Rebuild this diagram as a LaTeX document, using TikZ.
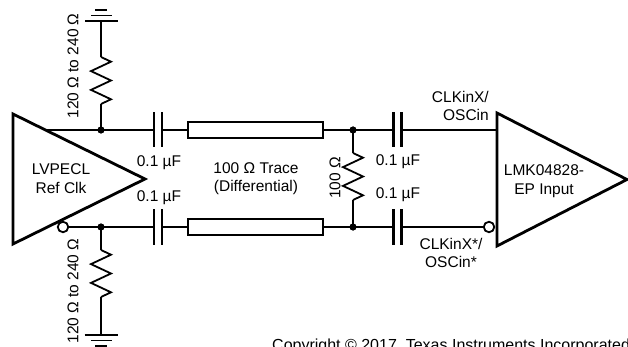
\documentclass[tikz,border=0pt]{standalone}
\usepackage{fontspec}
\setmainfont{Liberation Sans}
\usetikzlibrary{calc, positioning}
\tikzset{
wire/.style={draw=black, line width=1.8pt},
amp/.style={draw=black, line width=2.8pt, line join=miter},
plate/.style={draw=black, line width=2.4pt},
trace/.style={draw=black, line width=2pt, fill=white, minimum width=135pt, minimum height=16pt, inner sep=0pt},
dot/.style={circle, fill=black, inner sep=0pt, minimum size=7pt},
bubble/.style={circle, draw=black, line width=1.8pt, fill=white, inner sep=0pt, minimum size=10.5pt},
lbl/.style={font=\fontsize{15.5}{18.5}\selectfont, inner sep=0pt, align=center},
zres/.pic={
  \coordinate (-a) at (0,0);
  \coordinate (-b) at (0,47);
  \draw[wire, line join=miter] (-a) -- (10,4.7) -- (-10,14.1) -- (10,23.5) -- (-10,32.9) -- (10,42.3) -- (-b);
},
cap/.pic={
  \coordinate (-l) at (-4,0);
  \coordinate (-r) at (4,0);
  \draw[plate] (-4,-17.5) -- (-4,17.5);
  \draw[plate] (4,-17.5) -- (4,17.5);
},
gnd/.pic={
  \coordinate (-s) at (0,0);
  \draw[wire] (-16.5,0) -- (16.5,0);
  \draw[wire] (-10.5,5.5) -- (10.5,5.5);
  \draw[wire] (-6,11) -- (6,11);
},
}

\begin{document}
\begin{tikzpicture}[x=1pt, y=-1pt]
    \useasboundingbox (0,0) rectangle (628,347);

    % LVPECL driver
    \coordinate (la) at (13,114);
    \coordinate (lb) at (13,244);
    \coordinate (lc) at (145,179);
    \draw[amp] (la) -- (lc) -- (lb) -- cycle;
    \coordinate (lo) at ($(la)!{16/65}!(lc)$);
    \node[bubble] (lbub) at (63,227) {};
    \node[lbl] (drv) at (61,178.5) {LVPECL\\Ref Clk};

    % LMK04828-EP input
    \coordinate (ra) at (497,113);
    \coordinate (rb) at (497,246);
    \coordinate (rc) at (627,179.5);
    \draw[amp] (ra) -- (rc) -- (rb) -- cycle;
    \coordinate (rin) at (497,130);
    \node[bubble] (rbub) at (489,227) {};
    \node[lbl] (rcv) at (544,181) {LMK04828-\\EP Input};

    % caps and traces
    \pic (c1) at (158,130) {cap};
    \pic (c3) at (158,227) {cap};
    \pic (c2) at (397.5,130) {cap};
    \pic (c4) at (397.5,227) {cap};
    \node[trace] (t1) at (255.5,130) {};
    \node[trace] (t2) at (255.5,227) {};

    % junctions
    \node[dot] (j1) at (101,130) {};
    \node[dot] (j2) at (101,227) {};
    \node[dot] (j3) at (353,130) {};
    \node[dot] (j4) at (353,227) {};

    % termination resistors
    \pic (r1) at (101,57) {zres};
    \pic (r2) at (101,250) {zres};
    \pic (r3) at (353,153) {zres};
    \pic[rotate=180] (g1) at (101,21) {gnd};
    \pic (g2) at (101,335) {gnd};

    % wires
    \draw[wire] (lo) -- (c1-l);
    \draw[wire] (c1-r) -- (t1.west);
    \draw[wire] (t1.east) -- (c2-l);
    \draw[wire] (c2-r) -- (rin);
    \draw[wire] (lbub.east) -- (c3-l);
    \draw[wire] (c3-r) -- (t2.west);
    \draw[wire] (t2.east) -- (c4-l);
    \draw[wire] (c4-r) -- (rbub.west);
    \draw[wire] (g1-s) -- (r1-a);
    \draw[wire] (r1-b) -- (j1.center);
    \draw[wire] (j2.center) -- (r2-a);
    \draw[wire] (r2-b) -- (g2-s);
    \draw[wire] (j3.center) -- (r3-a);
    \draw[wire] (r3-b) -- (j4.center);
    \node[dot] at (j1) {};
    \node[dot] at (j2) {};
    \node[dot] at (j3) {};
    \node[dot] at (j4) {};

    % labels
    \node[lbl, rotate=90] (rl1) at (73,66) {120 Ω to 240 Ω};
    \node[lbl, rotate=90] (rl2) at (73,291) {120 Ω to 240 Ω};
    \node[lbl, rotate=90] (rl3) at (335,178) {100 Ω};
    \node[lbl] (cl1) at (159,163) {0.1 µF};
    \node[lbl] (cl3) at (159,198) {0.1 µF};
    \node[lbl] (cl2) at (398,162) {0.1 µF};
    \node[lbl] (cl4) at (398,195) {0.1 µF};
    \node[lbl] (tl) at (256,178.5) {100 Ω Trace\\(Differential)};
    \node[lbl, align=right, anchor=east] (pin1) at (489,106) {CLKinX/\\OSCin};
    \node[lbl] (pin2) at (451,253) {CLKinX*/\\OSCin*};
    \node[lbl, anchor=base west, font=\fontsize{16}{18}\selectfont] (copy) at (272,350) {Copyright © 2017, Texas Instruments Incorporated};
\end{tikzpicture}
\end{document}
